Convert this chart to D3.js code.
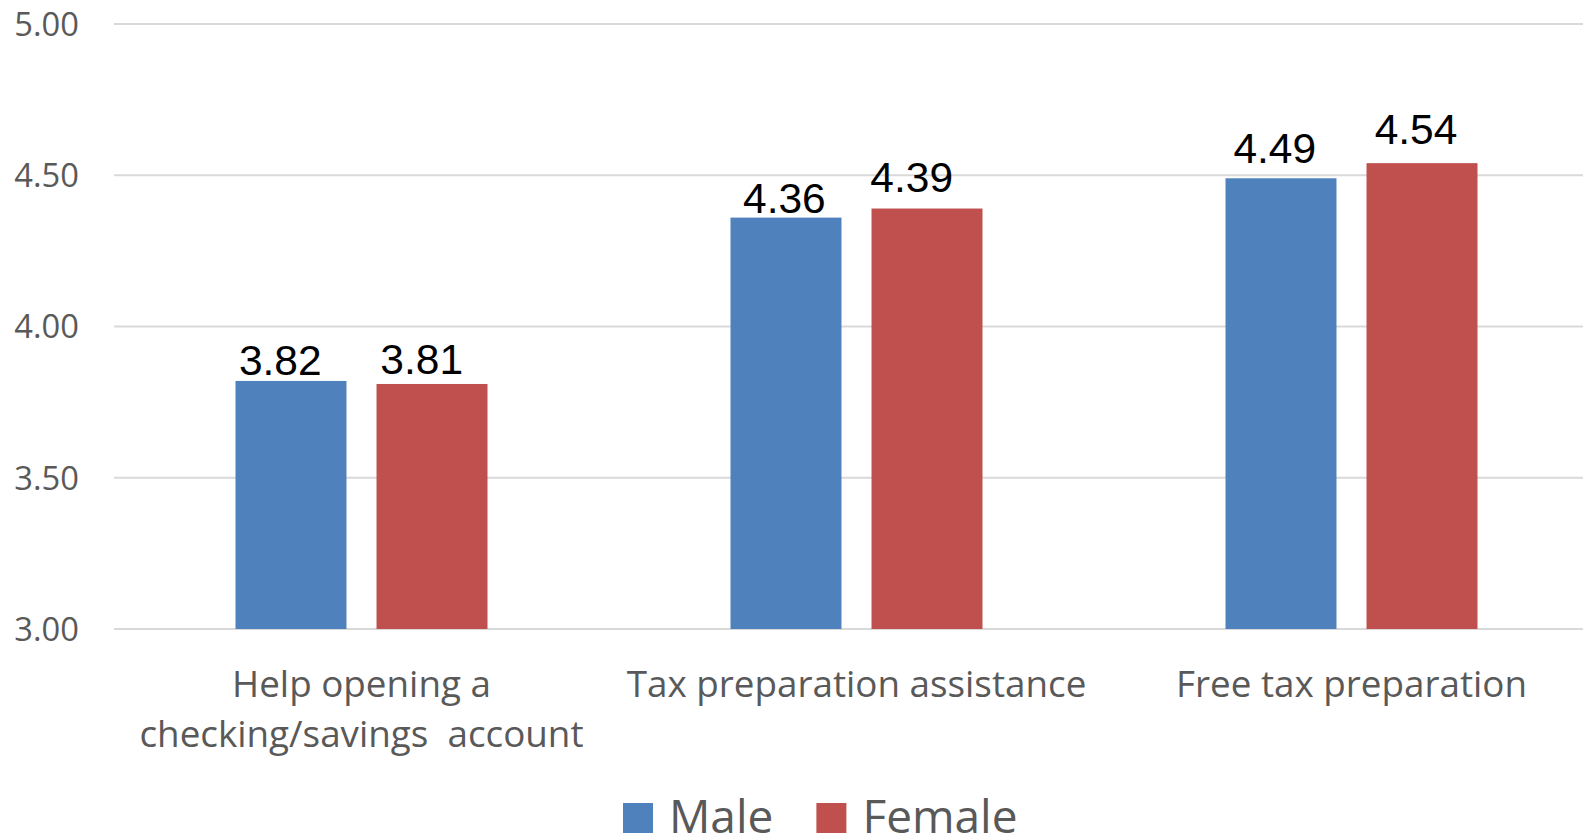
<!DOCTYPE html>
<html>
<head>
<meta charset="utf-8">
<script src="https://cdn.jsdelivr.net/npm/d3@7"></script>
<style>
  html, body { margin: 0; padding: 0; background: #fff; }
  svg { display: block; }
</style>
</head>
<body>
<div id="chart"></div>
<script>

// Data
const categories = [
    ["Help opening a", "checking/savings  account"],
    ["Tax preparation assistance"],
    ["Free tax preparation"]
];
const seriesNames = ["Male", "Female"];
const maleValues = [3.82, 4.36, 4.49];
const femaleValues = [3.81, 4.39, 4.54];
const yTicks = [3.00, 3.50, 4.00, 4.50, 5.00];
const colors = ["#4F81BD", "#C0504D"];

// Hand-placed label nudges from the original (male/female per category)
const labelDx = [[-10.7, -10.3], [-1.6, -15.3], [-6.2, -6]];
const labelGap = [[6, 9.7], [5, 17], [15.6, 19.6]];

const width = 1583, height = 836;
const plot = {left: 114, right: 1599, top: 24, bottom: 629};

let svg = d3.select("#chart")
    .append("svg")
        .attr("width", width)
        .attr("height", height);

let catKeys = categories.map(c => c.join(" "));

let x0 = d3.scaleBand()
    .domain(catKeys)
    .range([plot.left, plot.right])
    .padding(0);

// bars sit inside each band with a gap either side
let x1 = d3.scaleBand()
    .domain(seriesNames)
    .range([121.5, 373.5])
    .paddingInner(0.213)
    .paddingOuter(0);

let y = d3.scaleLinear()
    .domain([3, 5])
    .range([plot.bottom, plot.top]);

// Gridlines
svg.append("g")
    .selectAll("line")
    .data(yTicks)
    .enter().append("line")
        .attr("x1", plot.left)
        .attr("x2", width)
        .attr("y1", d => y(d))
        .attr("y2", d => y(d))
        .attr("stroke", "#d9d9d9")
        .attr("stroke-width", 1.8);

// Y axis labels
let yAxis = svg.append("g")
    .attr("transform", "translate(79,0)")
    .call(d3.axisLeft(y).tickValues(yTicks).tickFormat(d3.format(".2f")).tickSize(0).tickPadding(0));
yAxis.select(".domain").remove();
yAxis.selectAll("text")
    .attr("fill", "#595959")
    .attr("font-family", "'Open Sans', sans-serif")
    .attr("font-size", 32.7)
    .attr("dy", "0.35em");

// Flatten data points
let datapoints = [];
catKeys.forEach((c, i) => {
    datapoints.push({cat: c, ci: i, si: 0, series: "Male", value: maleValues[i]});
    datapoints.push({cat: c, ci: i, si: 1, series: "Female", value: femaleValues[i]});
});

// Bars
svg.append("g")
    .selectAll("rect")
    .data(datapoints)
    .enter().append("rect")
        .attr("x", d => x0(d.cat) + x1(d.series))
        .attr("y", d => y(d.value))
        .attr("width", x1.bandwidth())
        .attr("height", d => y(3) - y(d.value))
        .attr("fill", d => colors[d.si]);

// Value labels
svg.append("g")
    .selectAll("text")
    .data(datapoints)
    .enter().append("text")
        .attr("x", d => x0(d.cat) + x1(d.series) + x1.bandwidth() / 2 + labelDx[d.ci][d.si])
        .attr("y", d => y(d.value) - labelGap[d.ci][d.si])
        .attr("text-anchor", "middle")
        .attr("font-family", "'Liberation Sans', Arial, sans-serif")
        .attr("font-size", 42.5)
        .attr("fill", "#000")
        .text(d => d3.format(".2f")(d.value));

// Category labels
let catG = svg.append("g")
    .selectAll("text")
    .data(categories)
    .enter().append("text")
        .attr("x", (d, i) => x0(catKeys[i]) + x0.bandwidth() / 2)
        .attr("y", 697)
        .attr("text-anchor", "middle")
        .attr("font-family", "'Open Sans', sans-serif")
        .attr("font-size", 36.8)
        .attr("fill", "#595959")
        .style("white-space", "pre");

catG.each(function(d, i) {
    let t = d3.select(this);
    let cx = x0(catKeys[i]) + x0.bandwidth() / 2;
    d.forEach((line, j) => {
        t.append("tspan")
            .attr("x", cx)
            .attr("dy", j === 0 ? 0 : 49.5)
            .text(line);
    });
});

// Legend
let legend = svg.append("g")
    .attr("transform", "translate(623,833)");
let lx = 0;
seriesNames.forEach((name, i) => {
    legend.append("rect")
        .attr("x", lx)
        .attr("y", -30)
        .attr("width", 30)
        .attr("height", 30)
        .attr("fill", colors[i]);
    let txt = legend.append("text")
        .attr("x", lx + 46)
        .attr("y", 0)
        .attr("font-family", "'Open Sans', sans-serif")
        .attr("font-size", 46)
        .attr("fill", "#595959")
        .text(name);
    lx += 46 + txt.node().getComputedTextLength() + 43;
});

</script>
</body>
</html>
